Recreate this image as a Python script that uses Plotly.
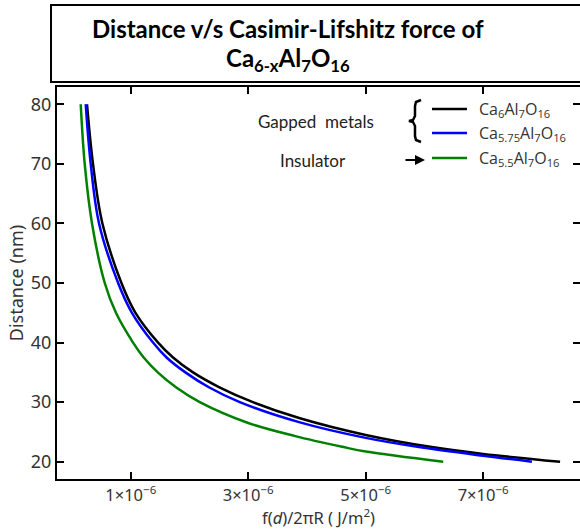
import plotly.graph_objects as go

# Distance (nm) against f(d)/2piR (J/m^2) for the three compositions
dist_ca6 = [20, 21.3, 22.5, 24.5, 27.3, 30, 32.5, 35, 37.5, 40, 45, 50, 60, 70, 80]
force_ca6 = [8.31e-6, 7.0e-6, 6.1e-6, 5.0e-6, 3.88e-6, 3.08e-6, 2.51e-6, 2.06e-6,
             1.72e-6, 1.465e-6, 1.08e-6, 0.841e-6, 0.517e-6, 0.357e-6, 0.255e-6]

dist_ca575 = [20, 21.0, 22.5, 24.0, 26.6, 30, 32.5, 35, 37.5, 40, 45, 50, 60, 70, 80]
force_ca575 = [7.83e-6, 7.0e-6, 5.88e-6, 5.0e-6, 3.88e-6, 2.856e-6, 2.33e-6, 1.93e-6,
               1.61e-6, 1.379e-6, 1.02e-6, 0.785e-6, 0.460e-6, 0.318e-6, 0.233e-6]

dist_ca55 = [20, 21.7, 22.5, 24.3, 26.5, 30, 32.5, 35, 37.5, 40, 45, 50, 60, 70, 80]
force_ca55 = [6.32e-6, 5.0e-6, 4.6e-6, 3.80e-6, 3.0e-6, 2.175e-6, 1.77e-6, 1.46e-6,
              1.22e-6, 1.039e-6, 0.748e-6, 0.557e-6, 0.340e-6, 0.216e-6, 0.148e-6]

series_names = ["Ca<sub>6</sub>Al<sub>7</sub>O<sub>16</sub>",
                "Ca<sub>5.75</sub>Al<sub>7</sub>O<sub>16</sub>",
                "Ca<sub>5.5</sub>Al<sub>7</sub>O<sub>16</sub>"]
series_colors = ["#000000", "#0000ff", "#008000"]

x_tickvals = [1e-6, 3e-6, 5e-6, 7e-6]
y_tickvals = [20, 30, 40, 50, 60, 70, 80]

W, H = 580, 529
ML, MT, MB, MR = 57, 87, 50, 0
PW, PH = W - ML - MR, H - MT - MB


def px_x(p):
    return (p - ML) / PW


def px_y(p):
    return (H - MB - p) / PH


fig = go.Figure()
for d, f, name, col in zip([dist_ca6, dist_ca575, dist_ca55],
                           [force_ca6, force_ca575, force_ca55],
                           series_names, series_colors):
    fig.add_trace(go.Scatter(x=f, y=d, mode="lines", name=name,
                             line=dict(color=col, width=2.5, shape="spline",
                                       smoothing=1.0),
                             showlegend=False))

# empty trace so the mirrored top/right tick axes are rendered
fig.add_trace(go.Scatter(x=[None], y=[None], xaxis="x2", yaxis="y2",
                         showlegend=False, hoverinfo="skip"))

xr = [-0.256e-6, 8.649e-6]
yr = [17.1, 82.9]
xtickfont = dict(family="Noto Sans", size=16.5, color="#333333")
ytickfont = dict(family="Noto Sans", size=18, color="#333333")

fig.update_layout(
    width=W, height=H,
    margin=dict(l=ML, r=MR, t=MT, b=MB),
    paper_bgcolor="white", plot_bgcolor="white",
    showlegend=False,
    xaxis=dict(range=xr, tickvals=x_tickvals, exponentformat="power",
               ticks="inside", ticklen=7, tickwidth=2, tickcolor="black",
               showline=True, linewidth=2, linecolor="black",
               showgrid=False, zeroline=False, tickfont=xtickfont,
               title=dict(text="f(<i>d</i>)/2πR ( J/m<sup>2</sup>)",
                          font=dict(family="Noto Sans", size=16.5, color="#333333"),
                          standoff=8)),
    yaxis=dict(range=yr, tickvals=y_tickvals,
               ticks="inside", ticklen=7, tickwidth=2, tickcolor="black",
               showline=True, linewidth=2, linecolor="black",
               showgrid=False, zeroline=False, tickfont=ytickfont,
               title=dict(text="Distance (nm)",
                          font=dict(family="Noto Sans", size=18, color="#333333"),
                          standoff=3)),
    xaxis2=dict(range=xr, overlaying="x", side="top", anchor="y",
                tickvals=x_tickvals, showticklabels=False,
                ticks="inside", ticklen=7, tickwidth=2, tickcolor="black",
                showline=True, linewidth=2, linecolor="black",
                showgrid=False, zeroline=False),
    yaxis2=dict(range=yr, overlaying="y", side="right", anchor="x",
                tickvals=y_tickvals, showticklabels=False,
                ticks="inside", ticklen=7, tickwidth=2, tickcolor="black",
                showline=False, showgrid=False, zeroline=False),
)

# title box
fig.add_shape(type="rect", xref="paper", yref="paper",
              x0=px_x(51), x1=px_x(620), y0=px_y(82), y1=px_y(5),
              line=dict(color="black", width=2), fillcolor="white")

title_font = dict(family="Lato", size=24, color="black")
fig.add_annotation(xref="paper", yref="paper", x=px_x(288), y=px_y(29),
                   text="<b>Distance v/s Casimir-Lifshitz force of</b>",
                   showarrow=False, font=title_font, xanchor="center",
                   yanchor="middle")
fig.add_annotation(xref="paper", yref="paper", x=px_x(288), y=px_y(59),
                   text="<b>Ca<sub>6-x</sub>Al<sub>7</sub>O<sub>16</sub></b>",
                   showarrow=False, font=title_font, xanchor="center",
                   yanchor="middle")

# legend: line samples and labels
legend_rows = [109, 133, 158]
legend_font = dict(family="Open Sans", size=16, color="#333333")
for row, name, col in zip(legend_rows, series_names, series_colors):
    fig.add_shape(type="line", xref="paper", yref="paper",
                  x0=px_x(432), x1=px_x(467), y0=px_y(row), y1=px_y(row),
                  line=dict(color=col, width=2.5))
    fig.add_annotation(xref="paper", yref="paper", x=px_x(477), y=px_y(row),
                       text=name, showarrow=False, font=legend_font,
                       xanchor="left", yanchor="middle")

# group labels, brace and arrow
note_font = dict(family="Lato", size=17, color="#222222")
fig.add_annotation(xref="paper", yref="paper", x=px_x(316), y=px_y(121),
                   text="Gapped  metals", showarrow=False, font=note_font,
                   xanchor="center", yanchor="middle")
fig.add_annotation(xref="paper", yref="paper", x=px_x(313), y=px_y(160),
                   text="Insulator", showarrow=False, font=note_font,
                   xanchor="center", yanchor="middle")

brace_pts = [(421, 100), (416, 102), (415, 106), (415, 116), (413, 120),
             (409, 121), (413, 122), (415, 126), (415, 136), (416, 140),
             (421, 142)]
brace_path = "M " + " L ".join(f"{px_x(a):.5f},{px_y(b):.5f}" for a, b in brace_pts)
fig.add_shape(type="path", xref="paper", yref="paper", path=brace_path,
              line=dict(color="black", width=2.5))

fig.add_annotation(xref="paper", yref="paper", x=px_x(425), y=px_y(160),
                   text="", showarrow=True, ax=-21, ay=0,
                   arrowhead=2, arrowsize=1, arrowwidth=2, arrowcolor="black")

fig.write_html("out.html")
